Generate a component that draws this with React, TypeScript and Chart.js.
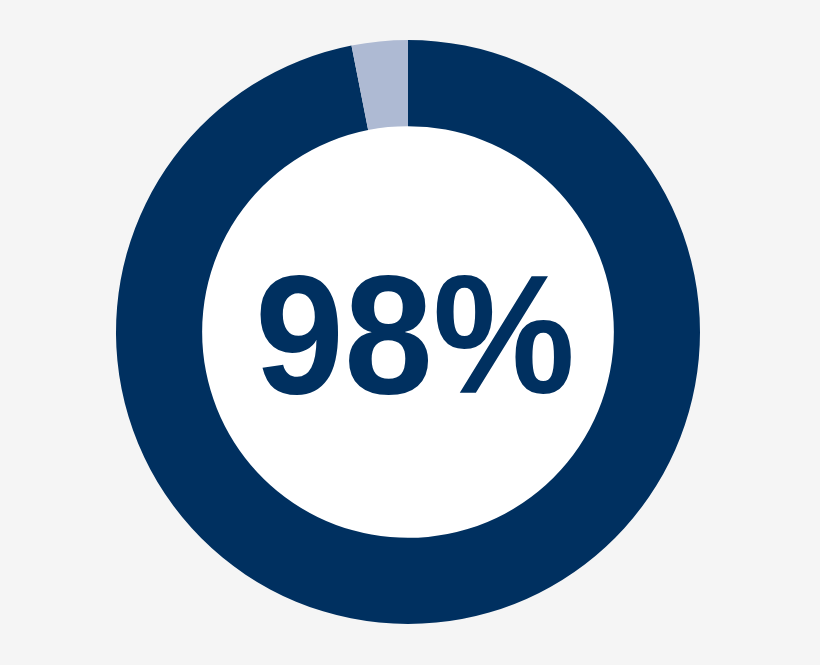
import { useEffect, useRef } from 'react';
import { Chart, registerables } from 'chart.js';

Chart.register(...registerables);

const labels = ['Yes', 'No'];
const values = [96.9, 3.1];
const colors = ['#003060', '#aebad3'];
const centerText = '98%';

const NAVY = '#003060';

// white disc inside the ring plus the big percentage
const centerPlugin = {
  id: 'centerLabel',
  beforeDatasetsDraw(chart: any) {
    const meta = chart.getDatasetMeta(0);
    const arc = meta.data[0];
    if (!arc) return;
    const { x, y, innerRadius } = arc.getProps(['x', 'y', 'innerRadius'], true);
    const ctx = chart.ctx;
    ctx.save();
    ctx.fillStyle = '#ffffff';
    ctx.beginPath();
    ctx.arc(x, y, innerRadius + 0.5, 0, Math.PI * 2);
    ctx.fill();
    ctx.restore();
  },
  afterDraw(chart: any) {
    const meta = chart.getDatasetMeta(0);
    const arc = meta.data[0];
    if (!arc) return;
    const { x, y } = arc.getProps(['x', 'y'], true);
    const ctx = chart.ctx;
    ctx.save();
    ctx.font = 'bold 168px "Liberation Sans", Arial, sans-serif';
    ctx.fillStyle = NAVY;
    ctx.textAlign = 'center';
    ctx.textBaseline = 'alphabetic';
    const w = ctx.measureText(centerText).width;
    const sx = 320 / w;
    ctx.translate(x + 7, y + 61);
    ctx.scale(sx, 1);
    ctx.fillText(centerText, 0, 0);
    ctx.restore();
  },
};

export default function App() {
  const canvasRef = useRef<HTMLCanvasElement | null>(null);
  const chartRef = useRef<Chart | null>(null);

  useEffect(() => {
    if (!canvasRef.current) return;
    if (chartRef.current) chartRef.current.destroy();
    const ctx = canvasRef.current.getContext('2d');
    if (!ctx) return;

    chartRef.current = new Chart(ctx, {
      type: 'doughnut',
      data: {
        labels,
        datasets: [
          {
            data: values,
            backgroundColor: colors,
            borderWidth: 0,
            radius: 292,
          } as any,
        ],
      },
      options: {
        animation: false,
        responsive: true,
        maintainAspectRatio: false,
        cutout: '70.5%',
        layout: { padding: { left: 0, right: 4, top: 0, bottom: 1 } },
        plugins: {
          legend: { display: false },
          tooltip: { enabled: false },
        },
      } as any,
      plugins: [centerPlugin],
    });

    return () => {
      if (chartRef.current) {
        chartRef.current.destroy();
        chartRef.current = null;
      }
    };
  }, []);

  return (
    <div
      style={{
        position: 'fixed',
        top: 0,
        left: 0,
        width: 820,
        height: 665,
        background: '#f5f5f5',
      }}
    >
      <canvas ref={canvasRef} />
    </div>
  );
}
